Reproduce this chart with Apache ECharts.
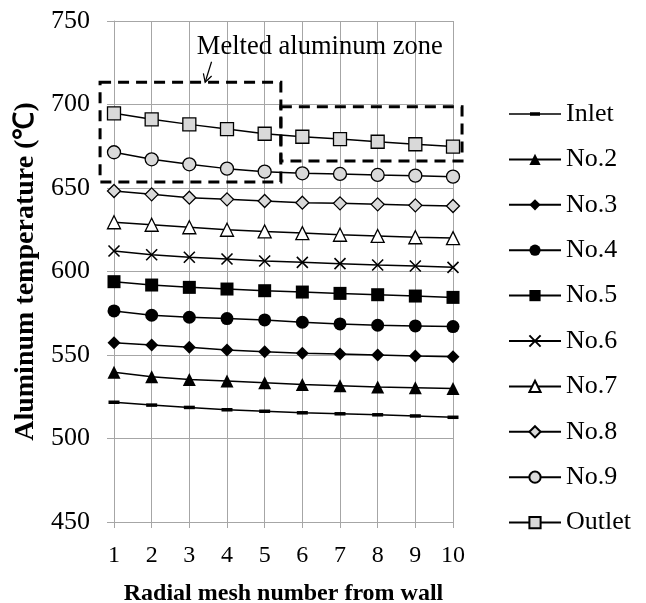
<!DOCTYPE html>
<html><head><meta charset="utf-8">
<script src="https://cdn.jsdelivr.net/npm/echarts@6/dist/echarts.min.js"></script>
<style>html,body{margin:0;padding:0;background:#fff}#c{width:646px;height:603px}</style>
</head><body><div id="c"></div><script>
const meshNumbers = [1,2,3,4,5,6,7,8,9,10];
const inlet  = [521.7,520.0,518.6,517.2,516.3,515.4,514.8,514.2,513.5,512.7];
const no2    = [539.6,537.0,535.4,534.4,533.4,532.4,531.6,530.8,530.4,530.0];
const no3    = [557.4,556.0,554.6,553.0,552.0,551.0,550.6,550.0,549.4,549.0];
const no4    = [576.4,573.8,572.6,571.8,571.0,569.6,568.6,567.8,567.4,567.0];
const no5    = [593.9,591.9,590.5,589.5,588.5,587.7,586.9,586.1,585.3,584.5];
const no6    = [612.3,610.0,608.5,607.5,606.3,605.5,604.7,603.9,603.3,602.5];
const no7    = [629.5,628.0,626.5,625.0,624.0,623.0,622.0,621.3,620.5,620.0];
const no8    = [648.2,646.2,644.2,643.2,642.2,641.2,640.8,640.2,639.6,639.2];
const no9    = [671.4,667.2,664.2,661.6,659.8,658.8,658.4,657.8,657.4,656.8];
const outlet = [694.7,691.1,688.1,685.3,682.5,680.7,679.3,677.7,676.2,674.8];
const seriesNames = ['Inlet','No.2','No.3','No.4','No.5','No.6','No.7','No.8','No.9','Outlet'];
const seriesValues = [inlet,no2,no3,no4,no5,no6,no7,no8,no9,outlet];
const yMin = 450, yMax = 750, yStep = 50;
const xMin = 1, xMax = 10;
// annotation: [x0, y0, x1, y1] in data units
const zoneBoxes = [[0.63,713.3,5.43,653.6],[5.43,698.7,10.24,666.2]];
const zoneArrow = [[3.59,725.6,3.42,713.3]];
const zoneLabel = [[3.2,734.5]];
const zoneLabelText = 'Melted aluminum zone';

const FONT = 'Liberation Serif';
const markerStyles = [
  {symbol:'rect', size:[11,3.5], fill:'#000'},
  {symbol:'triangle', size:13, fill:'#000'},
  {symbol:'diamond', size:13, fill:'#000'},
  {symbol:'circle', size:13, fill:'#000'},
  {symbol:'rect', size:13, fill:'#000'},
  {symbol:'path://M0,0L10,10M10,0L0,10', size:11, fill:'none', border:1.6},
  {symbol:'triangle', size:13, fill:'#fff', border:1.3},
  {symbol:'diamond', size:13, fill:'#d9d9d9', border:1.3},
  {symbol:'circle', size:13, fill:'#d9d9d9', border:1.3},
  {symbol:'rect', size:13, fill:'#d9d9d9', border:1.3}
];

const lineSeries = seriesNames.map((name,i)=>{
  const m = markerStyles[i];
  return {
    name, type:'line', z:3,
    data: meshNumbers.map((x,j)=>[x, seriesValues[i][j]]),
    symbol: m.symbol, symbolSize: m.size,
    showAllSymbol:true,
    lineStyle:{color:'#000', width:1.5},
    itemStyle:{color:m.fill, borderColor:'#000', borderWidth: m.border || 0},
    emphasis:{disabled:true}, silent:true
  };
});

const legendData = seriesNames.map((name,i)=> i===0
  ? {name, icon:'path://M0,6.3H52V7.7H0Z M21,5.2H31V8.8H21Z'}
  : {name});

const annotationSeries = [
  {
    type:'custom', name:'zoneBoxes', z:5, silent:true, clip:false,
    data: zoneBoxes,
    renderItem(params, api){
      const p0 = api.coord([api.value(0), api.value(1)]);
      const p1 = api.coord([api.value(2), api.value(3)]);
      return {type:'rect', shape:{x:p0[0], y:p0[1], width:p1[0]-p0[0], height:p1[1]-p0[1]},
        style:{fill:null, stroke:'#000', lineWidth:3, lineDash:[11,7]}};
    }
  },
  {
    type:'custom', name:'zoneArrow', z:5, silent:true, clip:false,
    data: zoneArrow,
    renderItem(params, api){
      const a = api.coord([api.value(0), api.value(1)]);
      const b = api.coord([api.value(2), api.value(3)]);
      const ang = Math.atan2(b[1]-a[1], b[0]-a[0]);
      const L = 9, s = 0.5;
      const h1 = [b[0]-L*Math.cos(ang-s), b[1]-L*Math.sin(ang-s)];
      const h2 = [b[0]-L*Math.cos(ang+s), b[1]-L*Math.sin(ang+s)];
      return {type:'group', children:[
        {type:'line', shape:{x1:a[0],y1:a[1],x2:b[0],y2:b[1]}, style:{stroke:'#000', lineWidth:1.2}},
        {type:'polyline', shape:{points:[h1,b,h2]}, style:{stroke:'#000', lineWidth:1.2, fill:null}}
      ]};
    }
  },
  {
    type:'custom', name:'zoneLabel', z:5, silent:true, clip:false,
    data: zoneLabel,
    renderItem(params, api){
      const p = api.coord([api.value(0), api.value(1)]);
      return {type:'text', x:p[0], y:p[1], style:{text:zoneLabelText, fill:'#000',
        font:'26.5px "'+FONT+'"', textAlign:'left', textVerticalAlign:'middle'}};
    }
  }
];

const chart = echarts.init(document.getElementById('c'), null, {renderer:'canvas'});
chart.setOption({
  animation:false,
  backgroundColor:'#fff',
  grid:{left:114, right:193, top:21, bottom:81, containLabel:false, outerBoundsMode:'none'},
  legend:{
    orient:'vertical', left:503, top:96, itemWidth:52, itemHeight:14, itemGap:19.4,
    data: legendData, selectedMode:false,
    textStyle:{fontFamily:FONT, fontSize:26, color:'#000'}
  },
  xAxis:{
    type:'value', min:xMin, max:xMax, interval:1,
    name:'Radial mesh number from wall', nameLocation:'middle', nameGap:60,
    nameTextStyle:{fontFamily:FONT, fontSize:24, fontWeight:'bold', color:'#000'},
    axisLine:{show:true, lineStyle:{color:'#a6a6a6'}},
    axisTick:{show:true, length:6, lineStyle:{color:'#a6a6a6'}},
    axisLabel:{fontFamily:FONT, fontSize:24, color:'#000', margin:22},
    splitLine:{show:true, lineStyle:{color:'#a6a6a6', width:1}}
  },
  yAxis:{
    type:'value', min:yMin, max:yMax, interval:yStep,
    name:'Aluminum temperature (℃)', nameLocation:'middle', nameGap:72, nameRotate:90,
    nameTextStyle:{fontFamily:FONT, fontSize:28, fontWeight:'bold', color:'#000'},
    axisLine:{show:true, lineStyle:{color:'#a6a6a6'}},
    axisTick:{show:true, length:7, lineStyle:{color:'#a6a6a6'}},
    axisLabel:{fontFamily:FONT, fontSize:26, color:'#000', margin:24},
    splitLine:{show:true, lineStyle:{color:'#a6a6a6', width:1}}
  },
  series: lineSeries.concat(annotationSeries)
});
</script></body></html>
